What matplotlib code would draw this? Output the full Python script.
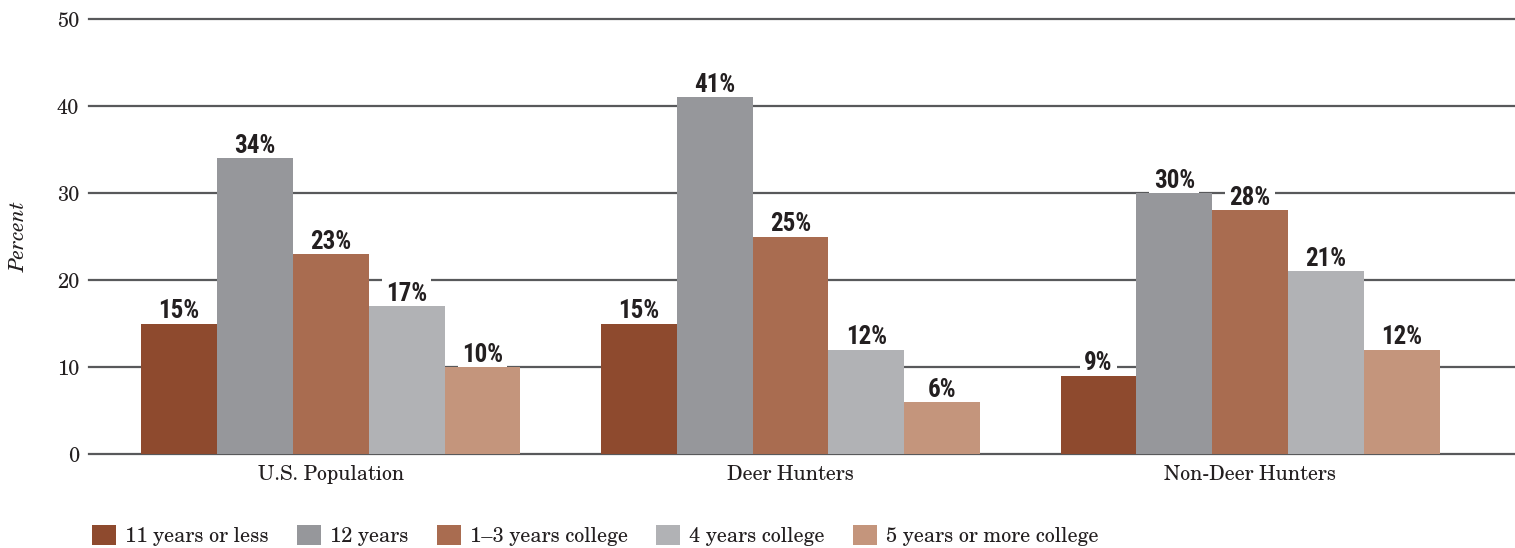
import numpy as np
import matplotlib
matplotlib.use('Agg')
import matplotlib.pyplot as plt
from matplotlib.patches import Patch

groups = ['U.S. Population', 'Deer Hunters', 'Non-Deer Hunters']
levels = ['11 years or less', '12 years', '1\u20133 years college',
          '4 years college', '5 years or more college']
less_11 = [15, 15, 9]
years_12 = [34, 41, 30]
college_1_3 = [23, 25, 28]
college_4 = [17, 12, 21]
college_5 = [10, 6, 12]
yticks = [0, 10, 20, 30, 40, 50]

series = [less_11, years_12, college_1_3, college_4, college_5]
colors = ['#8e4a2e', '#96979b', '#a96c50', '#b1b2b5', '#c4957c']

serif = ['C059', 'TeX Gyre Schola', 'Century Schoolbook L', 'Old Standard TT',
         'DejaVu Serif']
label_font = ['Roboto Condensed', 'Fira Sans Condensed', 'DejaVu Sans']
ink = '#231f20'

fig = plt.figure(figsize=(15.15, 5.48), dpi=100)
ax = fig.add_axes([0.0587, 0.1715, 0.9413, 0.7938])

x = np.arange(len(groups))
width = 0.165
for i, (vals, col) in enumerate(zip(series, colors)):
    pos = x + (i - 2) * width
    ax.bar(pos, vals, width=width, color=col, zorder=2)
    # value labels sit under the bars' zorder so the white box only hides gridlines
    for px, v in zip(pos, vals):
        ax.text(px, v + 0.6, f'{v}%', ha='center', va='baseline',
                fontsize=18, fontweight='bold', family=label_font,
                color=ink, zorder=1.5,
                bbox=dict(facecolor='white', edgecolor='none', pad=3))

ax.set_xlim(-0.526, 2.576)
ax.set_ylim(0, 50)
ax.set_yticks(yticks)
ax.set_yticklabels([str(t) for t in yticks], family=serif, fontsize=14.4,
                   color=ink)
ax.set_xticks(x)
ax.set_xticklabels(groups, family=serif, fontsize=14.4, color=ink)
ax.tick_params(axis='both', length=0)
ax.tick_params(axis='y', pad=7)
ax.tick_params(axis='x', pad=8)
ax.yaxis.grid(True, color='#58595b', linewidth=1.6, zorder=0)
for gl in ax.get_ygridlines():
    gl.set_clip_on(False)
ax.set_axisbelow(True)
for s in ax.spines.values():
    s.set_visible(False)

fig.text(0.0125, 1 - 236 / 548, 'Percent', rotation=90, ha='center',
         va='center', family=serif, style='italic', fontsize=15, color=ink)

handles = [Patch(facecolor=c, edgecolor='none') for c in colors]
fig.legend(handles, levels, loc='lower left', bbox_to_anchor=(0.0607, 0.004),
           ncol=5, frameon=False, prop={'family': serif, 'size': 14.5},
           handlelength=1.2, handleheight=1.2, handletextpad=0.45,
           columnspacing=1.4, borderpad=0, borderaxespad=0, labelcolor=ink)

fig.savefig('out.png', dpi=100)
